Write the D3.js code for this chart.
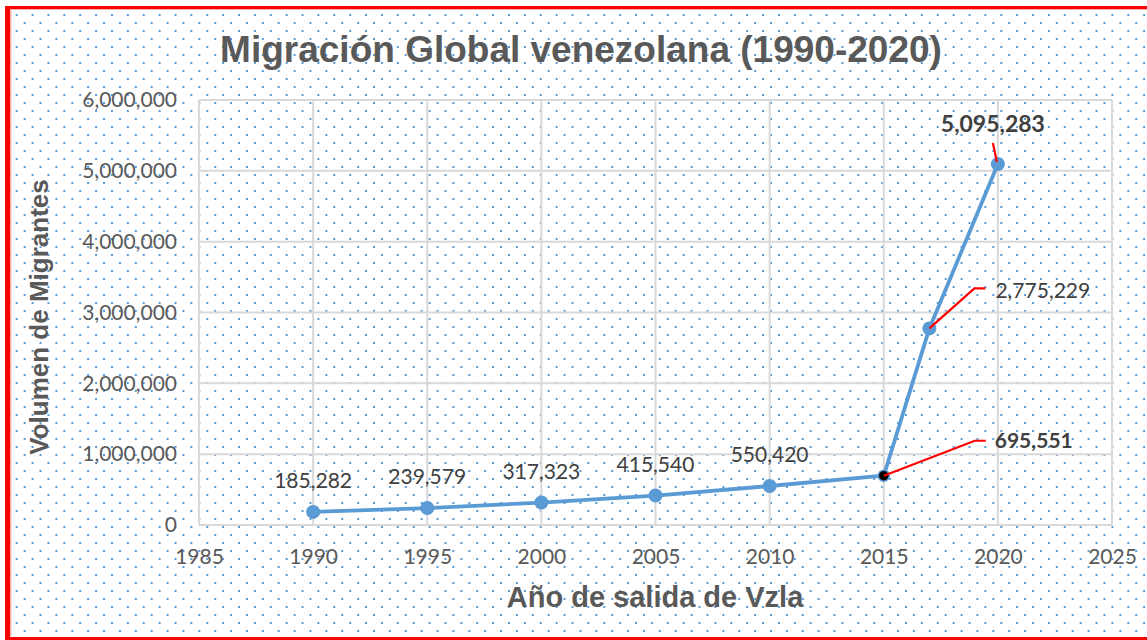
<!DOCTYPE html>
<html>
<head>
<meta charset="utf-8">
<script src="https://cdn.jsdelivr.net/npm/d3@7.9.0/dist/d3.min.js"></script>
<style>
  html, body { margin: 0; padding: 0; background: #fff; }
  svg { display: block; }
</style>
</head>
<body>
<div id="chart"></div>
<script>
// data
const years = [1990, 1995, 2000, 2005, 2010, 2015, 2017, 2020];
const migrants = [185282, 239579, 317323, 415540, 550420, 695551, 2775229, 5095283];
const xTickValues = [1985, 1990, 1995, 2000, 2005, 2010, 2015, 2020, 2025];
const yTickValues = [0, 1000000, 2000000, 3000000, 4000000, 5000000, 6000000];
const boldLabelYears = [2015, 2020];

const width = 1147
const height = 640
const plot = { left: 199, top: 100, right: 1112, bottom: 525 }

const svg = d3.select('#chart')
    .append('svg')
    .attr('width', width)
    .attr('height', height)

// dotted background
const defs = svg.append('defs')
const pat = defs.append('pattern')
    .attr('id', 'dots')
    .attr('patternUnits', 'userSpaceOnUse')
    .attr('x', 15.7)
    .attr('y', 14)
    .attr('width', 15.88)
    .attr('height', 16)
pat.append('rect').attr('x', 0).attr('y', 0).attr('width', 2).attr('height', 2).attr('fill', '#5b9bd5')
pat.append('rect').attr('x', 7.94).attr('y', 8).attr('width', 2).attr('height', 2).attr('fill', '#5b9bd5')

svg.append('rect')
    .attr('x', 10).attr('y', 9)
    .attr('width', width - 10).attr('height', height - 12)
    .attr('fill', 'url(#dots)')

// red frame
svg.append('rect').attr('x', 5).attr('y', 6).attr('width', width - 5).attr('height', 3.3).attr('fill', '#ff0000')
svg.append('rect').attr('x', 5).attr('y', 6).attr('width', 5).attr('height', height - 6).attr('fill', '#ff0000')
svg.append('rect').attr('x', 5).attr('y', 637).attr('width', width - 5).attr('height', 3).attr('fill', '#ff0000')
svg.append('rect').attr('x', 10).attr('y', 9.3).attr('width', 1.5).attr('height', 627).attr('fill', '#f4b4b4')

const x = d3.scaleLinear().domain([1985, 2025]).range([plot.left, plot.right])
const y = d3.scaleLinear().domain([0, 6000000]).range([plot.bottom, plot.top])

// grid
const grid = svg.append('g').attr('stroke', '#d9d9d9').attr('stroke-width', 2)
grid.selectAll('.hg').data(yTickValues).join('line')
    .attr('x1', plot.left).attr('x2', plot.right)
    .attr('y1', d => y(d)).attr('y2', d => y(d))
grid.selectAll('.vg').data(xTickValues).join('line')
    .attr('x1', d => x(d)).attr('x2', d => x(d))
    .attr('y1', plot.top).attr('y2', plot.bottom)

// axes (labels only)
const yAxis = svg.append('g')
    .attr('transform', `translate(${plot.left - 22},0)`)
    .call(d3.axisLeft(y).tickValues(yTickValues).tickFormat(d3.format(',')).tickSize(0).tickPadding(0))
const xAxis = svg.append('g')
    .attr('transform', `translate(0,${plot.bottom + 24})`)
    .call(d3.axisBottom(x).tickValues(xTickValues).tickFormat(d3.format('d')).tickSize(0).tickPadding(0))
;[yAxis, xAxis].forEach(a => {
    a.select('.domain').remove()
    a.selectAll('text')
        .attr('fill', '#595959')
        .style('font-family', 'Lato, "Open Sans", sans-serif')
        .style('font-size', '21px')
})
xAxis.selectAll('text').attr('dy', '0.71em')

// series
const pts = years.map((yr, i) => ({ year: yr, value: migrants[i] }))

svg.append('path')
    .datum(pts)
    .attr('d', d3.line().x(d => x(d.year)).y(d => y(d.value)))
    .attr('fill', 'none')
    .attr('stroke', '#5b9bd5')
    .attr('stroke-width', 3.8)
    .attr('stroke-linejoin', 'round')

svg.selectAll('.pt').data(pts).join('circle')
    .attr('cx', d => x(d.year))
    .attr('cy', d => y(d.value))
    .attr('r', d => d.year === 2015 ? 5.5 : 7)
    .attr('fill', d => d.year === 2015 ? '#000' : '#5b9bd5')
    .attr('stroke', '#5b9bd5')
    .attr('stroke-width', d => d.year === 2015 ? 1.5 : 0)

// leader lines for the called-out labels (pixel offsets from the point)
const leaders = {
    2015: [[91, -35], [102, -35]],
    2017: [[45, -40], [56, -40]],
    2020: [[-5, -21]]
}
Object.entries(leaders).forEach(([yr, offs]) => {
    const p = pts.find(d => d.year === +yr)
    const px = x(p.year), py = y(p.value)
    const start = yr === '2020' ? [px - 1, py - 2] : [px, py]
    svg.append('path')
        .attr('d', d3.line()([start, ...offs.map(o => [px + o[0], py + o[1]])]))
        .attr('fill', 'none')
        .attr('stroke', '#ff0000')
        .attr('stroke-width', 2.2)
})

// data labels
const labelPos = {
    2015: { dx: 111, dy: -28, anchor: 'start' },
    2017: { dx: 66, dy: -30, anchor: 'start' },
    2020: { dx: -5, dy: -32, anchor: 'middle' }
}
svg.selectAll('.lbl').data(pts).join('text')
    .attr('x', d => x(d.year) + (labelPos[d.year] ? labelPos[d.year].dx : 0))
    .attr('y', d => y(d.value) + (labelPos[d.year] ? labelPos[d.year].dy : -24))
    .attr('text-anchor', d => labelPos[d.year] ? labelPos[d.year].anchor : 'middle')
    .attr('fill', '#404040')
    .style('font-family', 'Lato, "Open Sans", sans-serif')
    .style('font-size', d => d.year === 2020 ? '23px' : '21px')
    .style('font-weight', d => boldLabelYears.includes(d.year) ? 'bold' : 'normal')
    .text(d => d3.format(',')(d.value))

// titles
svg.append('text')
    .attr('x', 581).attr('y', 62)
    .attr('text-anchor', 'middle')
    .attr('fill', '#595959')
    .style('font-family', '"Liberation Sans", Arial, sans-serif')
    .style('font-weight', 'bold')
    .style('font-size', '37px')
    .text('Migración Global venezolana (1990-2020)')

svg.append('text')
    .attr('x', 655).attr('y', 607)
    .attr('text-anchor', 'middle')
    .attr('fill', '#595959')
    .style('font-family', '"Liberation Sans", Arial, sans-serif')
    .style('font-weight', 'bold')
    .style('font-size', '29px')
    .text('Año de salida de Vzla')

svg.append('text')
    .attr('transform', 'translate(48,317) rotate(-90)')
    .attr('text-anchor', 'middle')
    .attr('fill', '#595959')
    .style('font-family', '"Liberation Sans", Arial, sans-serif')
    .style('font-weight', 'bold')
    .style('font-size', '26px')
    .text('Volumen de Migrantes')
</script>
</body>
</html>
